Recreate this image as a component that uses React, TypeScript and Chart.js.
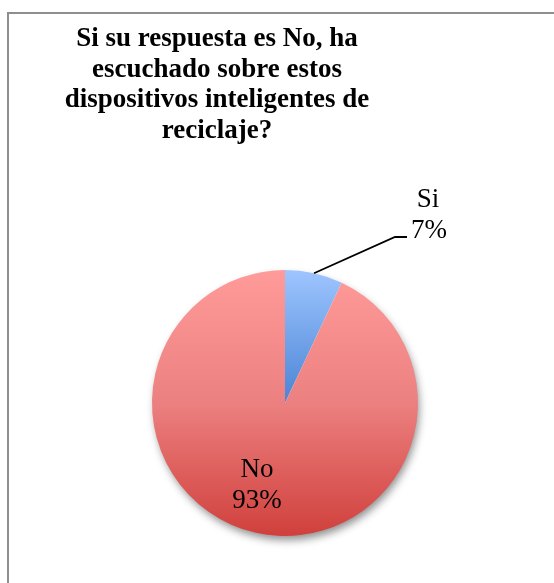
import React, { useEffect, useRef } from "react";
import { Chart, registerables } from "chart.js";

Chart.register(...registerables);

const categories = ["Si", "No"];
const values = [7, 93];
const percentLabels = ["7%", "93%"];
const titleLines = [
  "Si su respuesta es No, ha",
  "escuchado sobre estos",
  "dispositivos inteligentes de",
  "reciclaje?",
];

const W = 554;
const H = 583;

function geom(chart: any) {
  const a = chart.chartArea;
  const cx = (a.left + a.right) / 2;
  const cy = (a.top + a.bottom) / 2;
  const r = Math.min(a.right - a.left, a.bottom - a.top) / 2;
  return { cx, cy, r };
}

const titlePlugin = {
  id: "customTitle",
  afterDraw(chart: any) {
    const ctx = chart.ctx;
    ctx.save();
    ctx.fillStyle = "#000";
    ctx.font = "bold 27px 'Liberation Serif', serif";
    ctx.textAlign = "center";
    ctx.textBaseline = "alphabetic";
    titleLines.forEach((t, i) => ctx.fillText(t, 217, 46 + i * 30.7));
    ctx.restore();
  },
};

const shadowPlugin = {
  id: "pieShadow",
  beforeDatasetsDraw(chart: any) {
    const el = chart.getDatasetMeta(0).data[0];
    if (!el) return;
    const ctx = chart.ctx;
    ctx.save();
    ctx.shadowColor = "rgba(0,0,0,0.45)";
    ctx.shadowBlur = 9;
    ctx.shadowOffsetX = 2;
    ctx.shadowOffsetY = 5;
    ctx.fillStyle = "#ffffff";
    ctx.beginPath();
    ctx.arc(el.x, el.y, el.outerRadius - 1, 0, Math.PI * 2);
    ctx.fill();
    ctx.restore();
  },
};

const labelPlugin = {
  id: "sliceLabels",
  afterDatasetsDraw(chart: any) {
    const meta = chart.getDatasetMeta(0);
    const ctx = chart.ctx;
    ctx.save();
    ctx.fillStyle = "#000";
    ctx.strokeStyle = "#000";
    ctx.font = "27px 'Liberation Serif', serif";
    ctx.textAlign = "center";
    ctx.textBaseline = "alphabetic";
    const si: any = meta.data[0];
    const mid = (si.startAngle + si.endAngle) / 2;
    const sx = si.x + Math.cos(mid) * si.outerRadius;
    const sy = si.y + Math.sin(mid) * si.outerRadius;
    const ex = si.x + 110;
    const ey = si.y - 166;
    ctx.lineWidth = 1.8;
    ctx.beginPath();
    ctx.moveTo(sx, sy);
    ctx.lineTo(ex, ey);
    ctx.lineTo(ex + 12, ey);
    ctx.stroke();
    ctx.fillText(categories[0], si.x + 143, si.y - 196);
    ctx.fillText(percentLabels[0], si.x + 144, si.y - 165);
    const no: any = meta.data[1];
    ctx.fillText(categories[1], no.x - 28, no.y + 74);
    ctx.fillText(percentLabels[1], no.x - 28, no.y + 105);
    ctx.restore();
  },
};

export default function App() {
  const ref = useRef<HTMLCanvasElement>(null);
  useEffect(() => {
    if (!ref.current) return;
    const chart = new Chart(ref.current, {
      type: "pie",
      data: {
        labels: categories,
        datasets: [
          {
            data: values,
            borderWidth: 0,
            backgroundColor: (c: any) => {
              const chart = c.chart;
              if (!chart.chartArea) return "#f08080";
              const { cy, r } = geom(chart);
              const ctx = chart.ctx;
              if (c.dataIndex === 0) {
                const g = ctx.createLinearGradient(0, cy - r, 0, cy);
                g.addColorStop(0, "#9ec5ff");
                g.addColorStop(1, "#4a84d4");
                return g;
              }
              const g = ctx.createLinearGradient(0, cy - r, 0, cy + r);
              g.addColorStop(0, "#ff9b9a");
              g.addColorStop(0.5, "#ec8080");
              g.addColorStop(1, "#d0403c");
              return g;
            },
          },
        ],
      },
      options: {
        responsive: false,
        animation: false,
        devicePixelRatio: 1,
        events: [],
        layout: { padding: { left: 152, right: 136, top: 270, bottom: 47 } },
        plugins: {
          legend: { display: false },
          title: { display: false },
          tooltip: { enabled: false },
        },
      },
      plugins: [shadowPlugin, labelPlugin, titlePlugin],
    });
    return () => chart.destroy();
  }, []);
  return (
    <div style={{ position: "fixed", left: 0, top: 0, width: W, height: H, background: "#fff", overflow: "hidden" }}>
      <div
        style={{
          position: "absolute",
          left: 7,
          top: 12,
          width: 620,
          height: 620,
          borderLeft: "2px solid #8e8e8e",
          borderTop: "2px solid #8e8e8e",
        }}
      />
      <canvas ref={ref} width={W} height={H} style={{ position: "absolute", left: 0, top: 0 }} />
    </div>
  );
}
